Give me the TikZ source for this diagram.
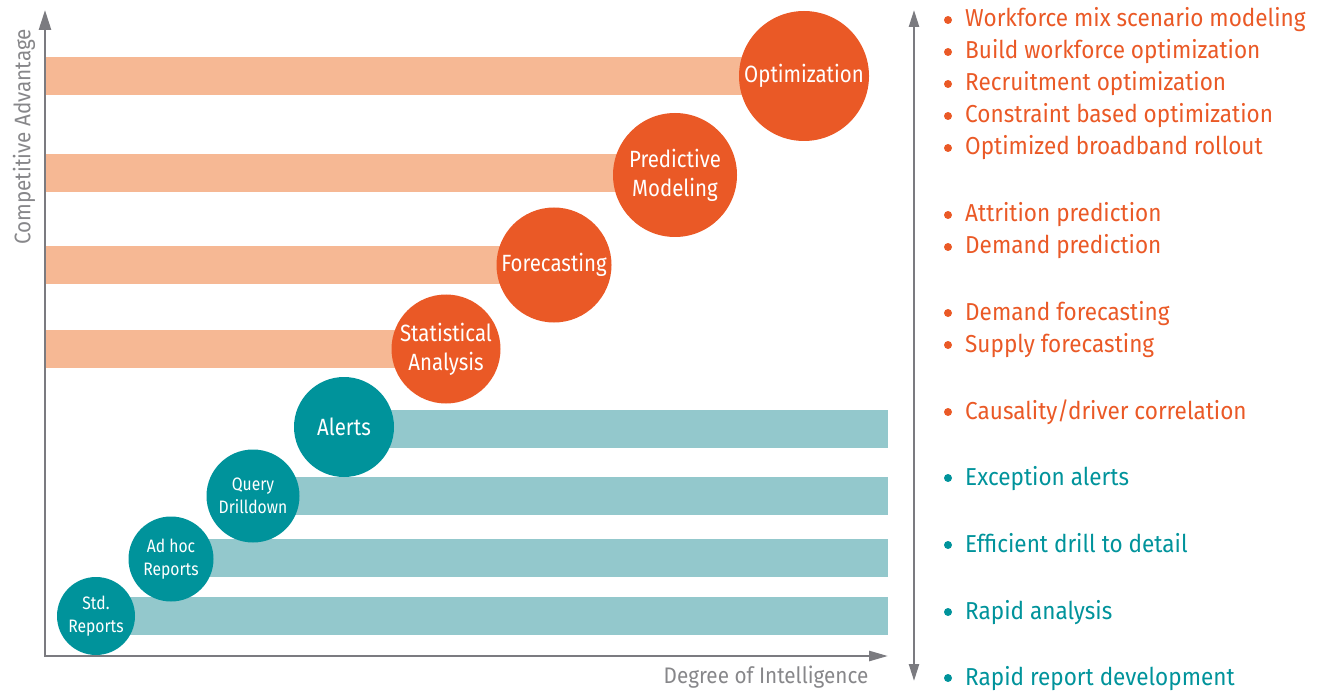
\documentclass[tikz,border=0pt]{standalone}
\usepackage{fontspec}
\setmainfont{Fira Sans}[FakeStretch=0.87]
\newfontfamily\listfont{Fira Sans}[FakeStretch=0.92]
\usetikzlibrary{arrows.meta}
\definecolor{org}{RGB}{234,89,38}
\definecolor{orgbar}{RGB}{246,184,148}
\definecolor{teal}{RGB}{0,147,155}
\definecolor{tealbar}{RGB}{147,200,204}
\definecolor{axisgray}{RGB}{123,123,128}
\definecolor{labgray}{RGB}{135,135,138}
\tikzset{
  ocirc/.style={circle,fill=org,text=white,inner sep=0pt,align=center,font=\fontsize{23.5}{29}\selectfont},
  tcirc/.style={circle,fill=teal,text=white,inner sep=0pt,align=center,font=\fontsize{23.5}{29}\selectfont},
  tsmall/.style={tcirc,font=\fontsize{18}{23}\selectfont},
  axis/.style={draw=axisgray,line width=2.6pt},
  oitem/.style={anchor=base west,inner sep=0pt,text=org,font=\listfont\fontsize{24.5}{28}\selectfont},
  titem/.style={anchor=base west,inner sep=0pt,text=teal,font=\listfont\fontsize{24.5}{28}\selectfont},
  obul/.style={circle,fill=org,inner sep=0pt,minimum size=8pt},
  tbul/.style={circle,fill=teal,inner sep=0pt,minimum size=8pt},
  axlab/.style={text=labgray,inner sep=0pt,font=\listfont\fontsize{22.5}{25}\selectfont}
}
\begin{document}
\begin{tikzpicture}[x=1pt,y=-1pt]
\useasboundingbox (0,0) rectangle (1329,692);
% coordinates
\coordinate (ytop) at (45,10);
\coordinate (corner) at (45,656);
\coordinate (xend) at (888,656);
\coordinate (rtop) at (914,10);
\coordinate (rbot) at (914,681);
% orange bars
\fill[orgbar] (46,57) rectangle (804,95);
\fill[orgbar] (46,154) rectangle (675,192);
\fill[orgbar] (46,246) rectangle (554,284);
\fill[orgbar] (46,330) rectangle (446,368);
% teal bars
\fill[tealbar] (344,410) rectangle (888,448);
\fill[tealbar] (253,477) rectangle (888,515);
\fill[tealbar] (171,539) rectangle (888,577);
\fill[tealbar] (96,597) rectangle (888,635);
% circles
\node[ocirc,minimum size=130pt] (opt) at (804,76) {Optimization};
\node[ocirc,minimum size=124pt] (pred) at (675,175) {Predictive\\Modeling};
\node[ocirc,minimum size=115pt] (fore) at (554,265) {Forecasting};
\node[ocirc,minimum size=109pt] (stat) at (446,349) {Statistical\\Analysis};
\node[tcirc,minimum size=100pt] (alert) at (344,427) {Alerts};
\node[tsmall,minimum size=93pt] (query) at (253,496) {Query\\Drilldown};
\node[tsmall,minimum size=85pt] (adhoc) at (171,559) {Ad hoc\\Reports};
\node[tsmall,minimum size=78pt] (std) at (96,616) {Std.\\Reports};
% axes
\draw[axis,{Triangle[length=20pt,width=12pt]}-{Triangle[length=19pt,width=10pt]}] (ytop) -- (corner) -- (xend);
\draw[axis,line width=2.4pt,{Triangle[length=17pt,width=10pt]}-{Triangle[length=17pt,width=10pt]}] (rtop) -- (rbot);
% axis labels
\node[axlab,rotate=90] (ylab) at (24,137) {Competitive Advantage};
\node[axlab] (xlab) at (766,677) {Degree of Intelligence};
% list
\node[obul] (b1) at (948,20) {}; \node[oitem] (l1) at (965,27) {Workforce mix scenario modeling};
\node[obul] (b2) at (948,52) {}; \node[oitem] (l2) at (965,59) {Build workforce optimization};
\node[obul] (b3) at (948,84) {}; \node[oitem] (l3) at (965,91) {Recruitment optimization};
\node[obul] (b4) at (948,116) {}; \node[oitem] (l4) at (965,123) {Constraint based optimization};
\node[obul] (b5) at (948,148) {}; \node[oitem] (l5) at (965,155) {Optimized broadband rollout};
\node[obul] (b6) at (948,215) {}; \node[oitem] (l6) at (965,222) {Attrition prediction};
\node[obul] (b7) at (948,247) {}; \node[oitem] (l7) at (965,254) {Demand prediction};
\node[obul] (b8) at (948,313) {}; \node[oitem] (l8) at (965,320) {Demand forecasting};
\node[obul] (b9) at (948,345) {}; \node[oitem] (l9) at (965,352) {Supply forecasting};
\node[obul] (b10) at (948,412) {}; \node[oitem] (l10) at (965,419) {Causality/driver correlation};
\node[tbul] (b11) at (948,478) {}; \node[titem] (l11) at (965,485) {Exception alerts};
\node[tbul] (b12) at (948,545) {}; \node[titem] (l12) at (965,552) {Efficient drill to detail};
\node[tbul] (b13) at (948,612) {}; \node[titem] (l13) at (965,619) {Rapid analysis};
\node[tbul] (b14) at (948,678) {}; \node[titem] (l14) at (965,685) {Rapid report development};
\end{tikzpicture}
\end{document}
